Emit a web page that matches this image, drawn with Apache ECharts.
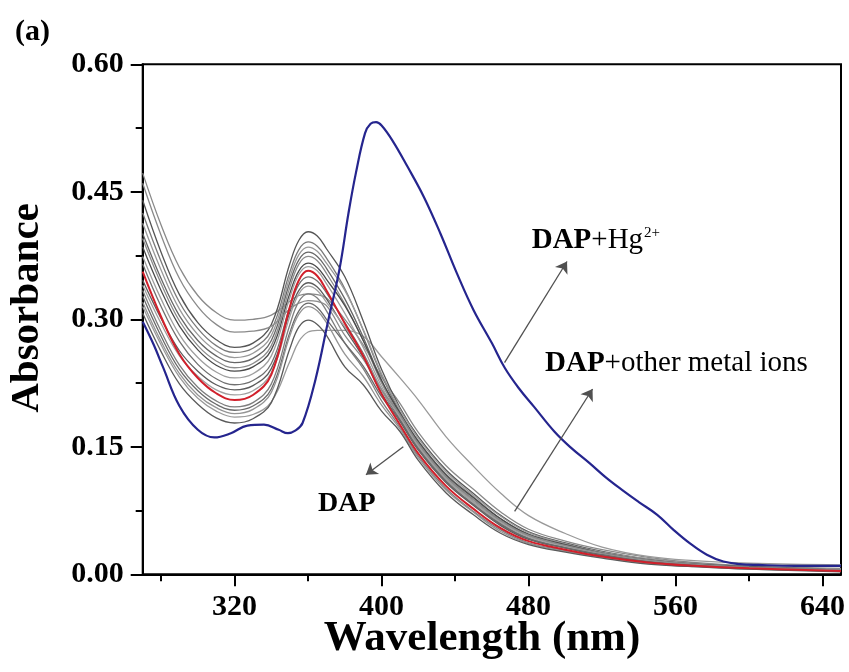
<!DOCTYPE html>
<html><head><meta charset="utf-8">
<script src="https://cdn.jsdelivr.net/npm/echarts@6/dist/echarts.min.js"></script>
<style>html,body{margin:0;padding:0;background:#fff}#c{width:849px;height:672px}</style>
</head><body><div id="c"></div>
<script>
// wavelength grid (nm) shared by the DAP / DAP+other metal ion spectra
const wavelengths = [270,280,290,300,310,320,330,340,350,355,360,365,370,380,390,400,410,420,435,450,465,480,500,520,545,570,600,650];

// DAP (red)
const dap = [.356,.303,.259,.231,.213,.205,.211,.235,.314,.346,.357,.351,.334,.295,.257,.212,.176,.142,.104,.077,.054,.039,.029,.021,.014,.010,.007,.004];

// DAP + other metal ions (gray)
const ion01 = [.472,.411,.361,.328,.308,.299,.300,.305,.321,.328,.330,.329,.325,.300,.270,.232,.201,.167,.128,.100,.073,.053,.039,.029,.020,.014,.010,.007];
const ion02 = [.315,.270,.232,.207,.192,.185,.188,.203,.250,.274,.285,.287,.287,.287,.280,.256,.231,.205,.162,.127,.095,.069,.048,.032,.021,.016,.013,.011];
const ion03 = [.440,.379,.329,.296,.276,.267,.272,.294,.365,.393,.403,.398,.383,.350,.298,.241,.196,.162,.123,.095,.069,.050,.037,.027,.018,.013,.009,.006];
const ion04 = [.425,.368,.320,.289,.269,.261,.266,.287,.355,.382,.391,.386,.372,.336,.287,.234,.191,.157,.118,.091,.065,.047,.035,.026,.017,.012,.009,.006];
const ion05 = [.413,.358,.312,.282,.263,.255,.260,.281,.349,.376,.385,.380,.366,.334,.288,.236,.194,.160,.121,.093,.068,.049,.036,.026,.018,.013,.009,.006];
const ion06 = [.401,.348,.304,.275,.257,.249,.254,.275,.343,.370,.379,.374,.360,.324,.279,.228,.188,.154,.115,.088,.063,.046,.034,.025,.017,.012,.008,.005];
const ion07 = [.395,.342,.298,.269,.251,.243,.248,.269,.337,.365,.374,.369,.354,.318,.275,.225,.186,.152,.114,.086,.062,.045,.033,.024,.016,.012,.008,.005];
const ion08 = [.385,.334,.292,.264,.246,.239,.244,.264,.330,.357,.366,.361,.347,.316,.275,.228,.190,.156,.117,.090,.065,.047,.035,.025,.017,.012,.009,.005];
const ion09 = [.374,.324,.282,.255,.238,.231,.236,.257,.325,.353,.362,.357,.342,.307,.267,.221,.184,.150,.112,.084,.060,.043,.032,.023,.016,.011,.008,.005];
const ion10 = [.365,.315,.274,.247,.230,.223,.228,.248,.314,.341,.350,.345,.331,.296,.260,.217,.182,.148,.110,.082,.059,.042,.031,.023,.015,.011,.008,.005];
const ion11 = [.346,.301,.263,.239,.223,.217,.222,.242,.308,.334,.343,.338,.324,.289,.255,.213,.180,.146,.108,.081,.057,.041,.031,.022,.015,.011,.007,.004];
const ion12 = [.340,.295,.257,.233,.217,.211,.216,.237,.303,.330,.339,.334,.320,.291,.258,.217,.185,.151,.113,.085,.061,.044,.033,.024,.016,.011,.008,.005];
const ion13 = [.334,.286,.246,.220,.204,.197,.202,.224,.293,.321,.330,.325,.310,.272,.242,.204,.173,.139,.101,.074,.052,.037,.028,.020,.013,.010,.007,.004];
const ion14 = [.327,.280,.241,.216,.200,.193,.198,.218,.284,.310,.319,.314,.300,.272,.245,.209,.181,.147,.109,.082,.058,.042,.031,.023,.015,.011,.008,.005];
const ion15 = [.320,.274,.236,.211,.196,.189,.194,.214,.280,.306,.315,.310,.296,.259,.233,.199,.171,.137,.099,.073,.050,.036,.027,.020,.013,.009,.006,.004];
const ion16 = [.460,.399,.348,.315,.294,.285,.286,.292,.312,.319,.322,.321,.316,.281,.253,.217,.188,.154,.115,.088,.063,.046,.034,.025,.017,.012,.008,.005];
const ion17 = [.307,.262,.224,.200,.184,.178,.183,.202,.265,.291,.299,.294,.281,.244,.223,.192,.168,.134,.096,.070,.048,.035,.026,.019,.012,.009,.006,.003];
const otherIons = [ion01,ion02,ion03,ion04,ion05,ion06,ion07,ion08,ion09,ion10,ion11,ion12,ion13,ion14,ion15,ion16,ion17];
const grayShades = ['#8a8a8a','#9a9a9a','#555555','#7a7a7a','#999999','#666666','#8c8c8c','#4a4a4a','#9e9e9e','#707070','#5c5c5c','#a0a0a0','#7e7e7e','#6a6a6a','#949494','#8a8a8a','#5a5a5a'];

// DAP + Hg2+ (blue)
const hgWavelengths = [270,276,281,290,300,309,318,327,336,344,349,353,357,364,371,377,382,386,391,394,397,400,406,414,423,432,441,450,460,467,475,483,494,503,513,522,531,540,550,559,568,577,586,595,605,625,650];
const hgAbs = [.297,.270,.244,.198,.170,.161,.166,.175,.176,.170,.166,.169,.178,.229,.299,.358,.425,.472,.519,.530,.532,.528,.510,.480,.444,.401,.354,.311,.272,.243,.218,.197,.168,.149,.131,.114,.099,.085,.070,.052,.036,.023,.015,.012,.011,.010,.010];

// axis ticks
const xMajorTicks = [320,400,480,560,640];
const xMinorTicks = [280,360,440,520,600];
const yTicks = [0,0.15,0.30,0.45,0.60];

const FONT = 'Liberation Serif';
const zip = (xs, ys) => xs.map((x, i) => [x, ys[i]]);

const series = [];
otherIons.forEach((arr, i) => {
  series.push({type:'line', data: zip(wavelengths, arr), smooth:0.4, symbol:'none',
    lineStyle:{color:grayShades[i], width:1.3}, z:2});
});
series.push({type:'line', data: zip(wavelengths, dap), smooth:0.4, symbol:'none',
  lineStyle:{color:'#d1202b', width:2}, z:3});
series.push({type:'line', data: zip(hgWavelengths, hgAbs), smooth:0.4, symbol:'none',
  lineStyle:{color:'#25258e', width:2.2}, z:4,
  markLine:{silent:true, symbol:['none','arrow'], symbolSize:11, animation:false,
    lineStyle:{color:'#505050', width:1.3, type:'solid'}, label:{show:false},
    data:[
      [{coord:[466.9,0.249]},{coord:[500.9,0.368]}],
      [{coord:[472.4,0.074]},{coord:[514.8,0.218]}],
      [{coord:[411.8,0.150]},{coord:[391.5,0.117]}]
    ]}
});

const chart = echarts.init(document.getElementById('c'), null, {renderer:'canvas'});
chart.setOption({
  animation:false,
  backgroundColor:'#fff',
  grid:{left:142.7, top:64.3, right:8, bottom:97.7, show:true, borderColor:'#000', borderWidth:2, containLabel:false},
  xAxis:[{
    type:'value', min:270, max:650, position:'bottom',
    axisLine:{show:true, lineStyle:{color:'#000', width:2}},
    axisTick:{show:true, customValues:xMajorTicks, length:12, lineStyle:{color:'#000', width:2}},
    axisLabel:{customValues:xMajorTicks, margin:18, color:'#000', fontFamily:FONT, fontWeight:'bold', fontSize:30},
    splitLine:{show:false}
  },{
    type:'value', min:270, max:650, position:'bottom',
    axisLine:{show:false},
    axisTick:{show:true, customValues:xMinorTicks, length:7, lineStyle:{color:'#000', width:2}},
    axisLabel:{show:false}, splitLine:{show:false}
  }],
  yAxis:{
    type:'value', min:0, max:0.6, interval:0.15,
    axisLine:{show:true, lineStyle:{color:'#000', width:2}},
    axisTick:{show:true, length:12, lineStyle:{color:'#000', width:2}},
    minorTick:{show:true, splitNumber:2, length:7, lineStyle:{color:'#000', width:2}},
    axisLabel:{margin:19, color:'#000', fontFamily:FONT, fontWeight:'bold', fontSize:30,
      formatter:(v)=>{const t = yTicks.find(k=>Math.abs(k-v)<1e-9); return (t===undefined?v:t).toFixed(2);}},
    splitLine:{show:false}, minorSplitLine:{show:false}
  },
  series: series,
  graphic:[
    {type:'text', x:15, y:32, style:{text:'(a)', fill:'#000', font:'bold 30px "Liberation Serif"', align:'left', verticalAlign:'middle'}},
    {type:'text', x:482, y:638.5, style:{text:'Wavelength (nm)', fill:'#000', font:'bold 43px "Liberation Serif"', align:'center', verticalAlign:'middle'}},
    {type:'text', x:27.9, y:308, rotation:Math.PI/2, style:{text:'Absorbance', fill:'#000', font:'bold 41px "Liberation Serif"', align:'center', verticalAlign:'middle'}},
    {type:'text', x:531.7, y:240.2, z:10, style:{text:'{b|DAP}{n|+Hg}{s|2+}', fill:'#000', align:'left', verticalAlign:'middle',
      rich:{b:{fontFamily:FONT, fontWeight:'bold', fontSize:29, fill:'#000'}, n:{fontFamily:FONT, fontSize:29, fill:'#000'}, s:{fontFamily:FONT, fontSize:15, verticalAlign:'top', lineHeight:24, padding:[0,0,0,1], fill:'#000'}}}},
    {type:'text', x:545, y:363.2, z:10, style:{text:'{b|DAP}{n|+other metal ions}', fill:'#000', align:'left', verticalAlign:'middle',
      rich:{b:{fontFamily:FONT, fontWeight:'bold', fontSize:29, fill:'#000'}, n:{fontFamily:FONT, fontSize:29, fill:'#000'}}}},
    {type:'text', x:318, y:503.5, z:10, style:{text:'DAP', fill:'#000', font:'bold 28px "Liberation Serif"', align:'left', verticalAlign:'middle'}}
  ]
});
</script></body></html>
